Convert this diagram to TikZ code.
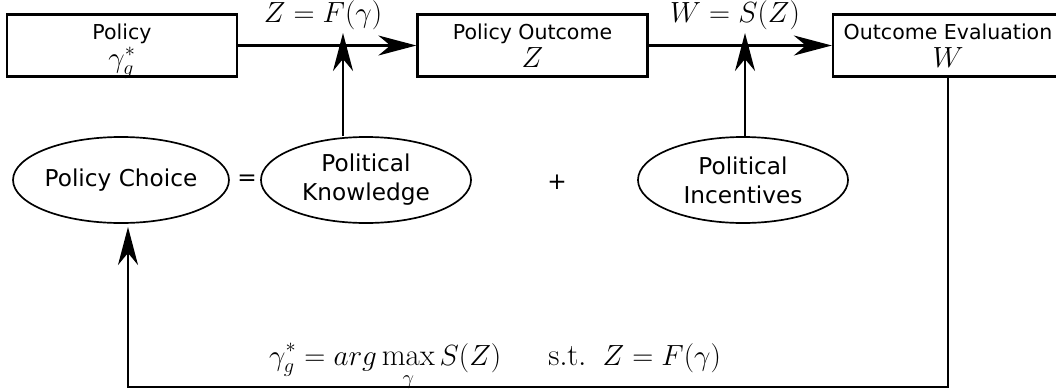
\documentclass[tikz,border=0pt]{standalone}
\usepackage{fontspec}
\newfontfamily\dejavu{DejaVu Sans}
\usetikzlibrary{arrows.meta,shapes.geometric}
\newcommand{\mth}[1]{{\fontsize{20}{20}\selectfont$#1$}}
\begin{document}
\begin{tikzpicture}[x=0.025cm,y=-0.025cm,
    blk/.style={draw,line width=1.6pt,rectangle,minimum width=5.75cm,minimum height=1.55cm,
      inner sep=0pt,align=center,font=\dejavu\fontsize{14.6}{20}\selectfont},
    oval/.style={draw,line width=1.2pt,ellipse,minimum width=5.25cm,minimum height=2.15cm,
      inner sep=0pt,align=center,font=\dejavu\fontsize{16.5}{20.6}\selectfont},
    sym/.style={font=\dejavu\fontsize{16.5}{20}\selectfont},
    lbl/.style={font=\fontsize{20}{24}\selectfont},
    arw/.style={line width=1.6pt,-{Stealth[length=0.95cm,width=0.5cm,inset=0.3cm]}}]
    \useasboundingbox (0,0) rectangle (1056,389);
    \node[blk] (pol) at (122,45.5) {Policy\\\mth{\smash{\gamma_g^*}\vphantom{Z}}};
    \node[blk] (out) at (532.5,45.5) {Policy Outcome\\\mth{Z}};
    \node[blk] (eval) at (948,45.5) {Outcome Evaluation\\\mth{W}};
    \node[oval] (choice) at (121,180) {Policy Choice};
    \node[oval] (know) at (366,180) {Political\\Knowledge};
    \node[oval] (inc) at (743,180) {Political\\Incentives};
    \node[sym] (eq) at (247,180) {=};
    \node[sym] (plus) at (557,182) {+};
    \node[lbl] (f) at (323,15) {$Z=F(\gamma)$};
    \node[lbl] (s) at (735,15) {$W=S(Z)$};
    \node[lbl,font=\fontsize{22}{24}\selectfont,anchor=base] (opt) at (495,365)
      {$\displaystyle\gamma_g^*=arg\max_{\rule{0pt}{12pt}\gamma}S(Z)\quad\;\;\mathrm{s.t.}\;\;Z=F(\gamma)$};
    \coordinate (kt) at (343,33);
    \coordinate (it) at (745,33);
    \coordinate (ct) at (128,227);
    \coordinate (bl) at (128,387);
    \coordinate (br) at (948,387);
    \draw[arw] (pol.east) -- (out.west);
    \draw[arw] (out.east) -- (eval.west);
    \draw[arw] (know.north -| kt) -- (kt);
    \draw[arw] (inc.north -| it) -- (it);
    \draw[arw] (eval.south) -- (br) -- (bl) -- (ct);
\end{tikzpicture}
\end{document}
